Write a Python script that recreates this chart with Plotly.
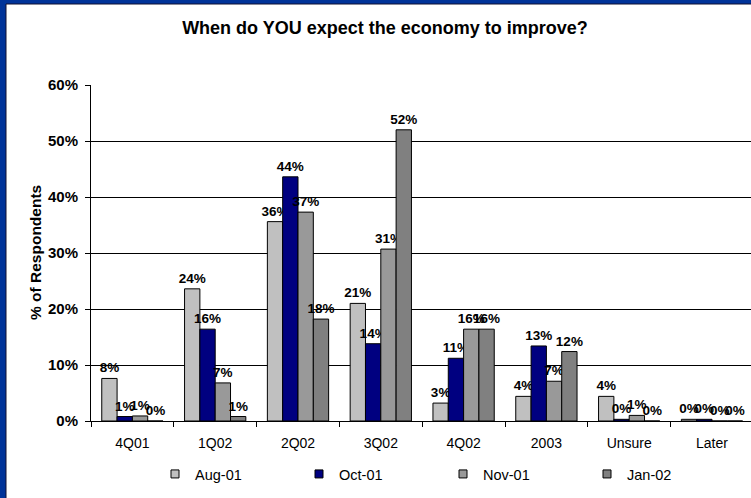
import plotly.graph_objects as go

# Survey: when respondents expect the economy to improve
categories = ["4Q01", "1Q02", "2Q02", "3Q02", "4Q02", "2003", "Unsure", "Later"]
series_names = ["Aug-01", "Oct-01", "Nov-01", "Jan-02"]
aug_01 = [0.076, 0.236, 0.356, 0.210, 0.032, 0.044, 0.044, 0.003]
oct_01 = [0.008, 0.164, 0.436, 0.138, 0.112, 0.134, 0.003, 0.003]
nov_01 = [0.009, 0.068, 0.373, 0.307, 0.164, 0.071, 0.010, 0.000]
jan_02 = [0.000, 0.008, 0.182, 0.520, 0.164, 0.124, 0.000, 0.000]
series_values = [aug_01, oct_01, nov_01, jan_02]
series_colors = ["#C0C0C0", "#000080", "#999999", "#808080"]
y_ticks = [0, 0.1, 0.2, 0.3, 0.4, 0.5, 0.6]

W, H = 751, 498
ML, MR, MT, MB = 91, 0, 85, 77
PW, PH = W - ML - MR, H - MT - MB
FONT = "Liberation Sans, Arial, sans-serif"


def px_x(px):
    return (px - ML) / PW


def px_y(py):
    return (H - MB - py) / PH


fig = go.Figure()
for name, vals, col in zip(series_names, series_values, series_colors):
    fig.add_trace(go.Bar(
        x=categories, y=vals, name=name, showlegend=False,
        marker=dict(color=col, line=dict(color="black", width=1)),
        texttemplate="%{y:.0%}", textposition="outside",
        textfont=dict(family=FONT, size=13.5, color="black", weight="bold"),
        constraintext="none", cliponaxis=False,
    ))
    # small square swatch for the legend
    fig.add_trace(go.Scatter(
        x=[None], y=[None], mode="markers", name=name,
        marker=dict(symbol="square", size=8, color=col,
                    line=dict(color="black", width=1)),
    ))

# blue slide frame with a white panel inside
fig.add_shape(type="rect", xref="paper", yref="paper", layer="below",
              x0=px_x(6), x1=px_x(W + 20), y0=px_y(H + 20), y1=px_y(4),
              fillcolor="white", line=dict(color="#101030", width=1))

fig.add_annotation(text="% of Respondents", textangle=-90,
                   xref="paper", yref="paper", x=px_x(35), y=0.5,
                   xanchor="center", yanchor="middle", showarrow=False,
                   font=dict(family=FONT, size=15.5, color="black", weight="bold"))

fig.update_layout(
    width=W, height=H,
    margin=dict(l=ML, r=MR, t=MT, b=MB),
    paper_bgcolor="#003399", plot_bgcolor="white",
    barmode="group", bargap=0.26, bargroupgap=0,
    title=dict(text="<b>When do YOU expect the economy to improve?</b>",
               xref="container", yref="container",
               x=385 / W, y=1 - 28 / H, xanchor="center", yanchor="middle",
               font=dict(family=FONT, size=18, color="black")),
    font=dict(family=FONT, color="black"),
    legend=dict(orientation="h", x=px_x(155), y=px_y(474),
                xanchor="left", yanchor="middle",
                bgcolor="rgba(0,0,0,0)",
                entrywidth=99, entrywidthmode="pixels",
                font=dict(family=FONT, size=14.5, color="black")),
    xaxis=dict(range=[-0.5, -0.5 + PW / 82.8], showline=True,
               linecolor="black", linewidth=1,
               ticks="outside", tickson="boundaries", ticklen=5,
               tickcolor="black", showgrid=False, ticklabelstandoff=9,
               tickfont=dict(family=FONT, size=14, color="black")),
    yaxis=dict(range=[0, 0.6], tickvals=y_ticks, tickformat=".0%",
               showline=True, linecolor="black", linewidth=1,
               ticks="outside", ticklen=5, tickcolor="black",
               showgrid=True, gridcolor="black", gridwidth=1,
               zeroline=False, ticklabelstandoff=4,
               tickfont=dict(family=FONT, size=15, color="black",
                             weight="bold")),
)

fig.write_html("out.html")
